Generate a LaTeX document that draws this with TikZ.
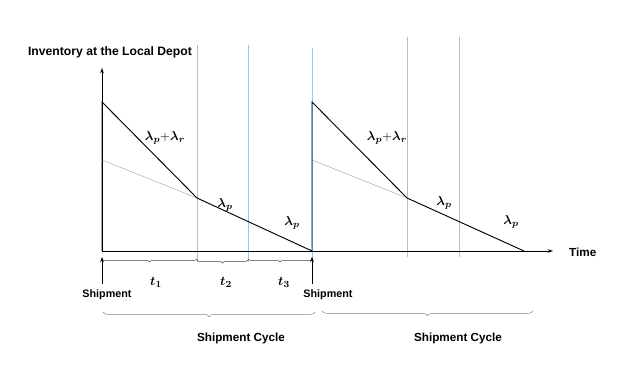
\documentclass[tikz,border=0pt]{standalone}
\usepackage{amsmath}
\usepackage{fontspec}
\setmainfont{Liberation Sans}
\usepackage{tikz}
\usetikzlibrary{arrows.meta,decorations.pathreplacing}
\definecolor{figBlue}{HTML}{9DC3E6}
\definecolor{figGray}{HTML}{A6A6A6}

\begin{document}
\begin{tikzpicture}[x=0.03cm, y=-0.03cm,
  every node/.style={font=\bfseries\fontsize{10}{12}\selectfont},
  axis/.style={-{Stealth[length=1.6mm, width=1.1mm]}, thick},
  shiparrow/.style={-{Stealth[length=1.5mm, width=1.1mm]}, semithick},
  stock/.style={thick},
  guide/.style={figBlue, thin},
  proj/.style={figGray, thin},
  phase/.style={decorate, decoration={brace, mirror, amplitude=2.5pt}, thin, black!75},
  cycle/.style={decorate, decoration={brace, mirror, amplitude=4pt}, thin, figGray!80!black},
  rate/.style={font=\fontsize{11}{13}\selectfont},
  shiplab/.style={font=\bfseries\fontsize{9.2}{11}\selectfont},
]
\useasboundingbox (0,0) rectangle (631,376);

% Guide lines
\foreach \x/\a/\b in {197/45/262, 248/45/262, 312/48/262, 407/37/257, 459/37/257}
  \draw[guide] (\x,\a) -- (\x,\b);

% Axes
\coordinate (O) at (102,251);
\coordinate (ytop) at (102,68);
\coordinate (xend) at (553,251);
\draw[axis] (O) -- (ytop);
\draw[axis] (O) -- (xend);
\node (ylab) at (110,52) {\fontsize{10.4}{12}\selectfont Inventory at the Local Depot};
\node[anchor=west] (time) at (565,252) {Time};

% First cycle
\coordinate (top1) at (102,102);
\coordinate (knee1) at (197,198);
\coordinate (end1) at (312,251);
\coordinate (mid1) at (102,160);
\draw[proj] (mid1) -- (knee1);
\draw[stock] (O) -- (top1) -- (knee1) -- (end1);

% Second cycle
\coordinate (top2) at (312,102);
\coordinate (knee2) at (407,198);
\coordinate (end2) at (524,251);
\coordinate (mid2) at (312,160);
\draw[proj] (mid2) -- (knee2);
\draw[stock] (end1) -- (top2) -- (knee2) -- (end2);

% Rates
\node[rate] (r1) at (165,138) {$\boldsymbol{\lambda_p}{+}\boldsymbol{\lambda_r}$};
\node[rate] (p1) at (225,205) {$\boldsymbol{\lambda_p}$};
\node[rate] (q1) at (292,223) {$\boldsymbol{\lambda_p}$};
\node[rate] (r2) at (387,138) {$\boldsymbol{\lambda_p}{+}\boldsymbol{\lambda_r}$};
\node[rate] (p2) at (444,203) {$\boldsymbol{\lambda_p}$};
\node[rate] (q2) at (511,222) {$\boldsymbol{\lambda_p}$};

% Phases
\draw[phase] (102,259) -- (197,259);
\draw[phase] (197,260) -- (248,260);
\draw[phase] (248,259) -- (312,259);
\node[rate] (t1) at (156,282) {$\boldsymbol{t_1}$};
\node[rate] (t2) at (226,282) {$\boldsymbol{t_2}$};
\node[rate] (t3) at (284,282) {$\boldsymbol{t_3}$};

% Shipments
\coordinate (s1a) at (102,284);
\coordinate (s1b) at (102,257);
\coordinate (s2a) at (312,284);
\coordinate (s2b) at (312,257);
\draw[shiparrow] (s1a) -- (s1b);
\draw[shiparrow] (s2a) -- (s2b);
\node[shiplab] (ship1) at (107,295) {Shipment};
\node[shiplab] (ship2) at (328,295) {Shipment};

% Cycles
\draw[cycle] (103,312) -- (315,312);
\draw[cycle] (322,311) -- (533,311);
\node (cyc1) at (241,338) {Shipment Cycle};
\node (cyc2) at (458,338) {Shipment Cycle};

\end{tikzpicture}
\end{document}
